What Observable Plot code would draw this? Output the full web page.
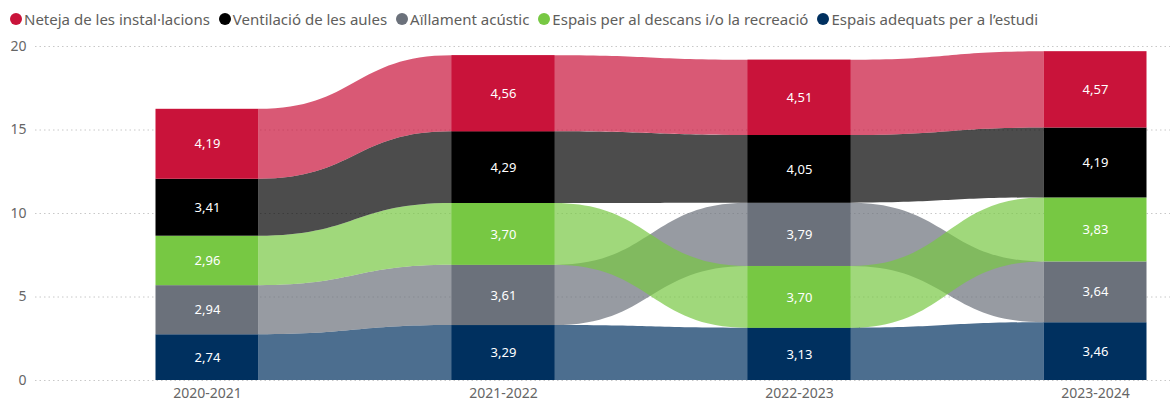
<!DOCTYPE html>
<html>
<head>
<meta charset="utf-8">
<script src="https://cdn.jsdelivr.net/npm/d3@7"></script>
<script src="https://cdn.jsdelivr.net/npm/@observablehq/plot@0.6"></script>
<style>
  html, body { margin: 0; padding: 0; background: #fff; }
  body { width: 1172px; height: 402px; overflow: hidden; font-family: "Noto Sans", "Open Sans", sans-serif; }
  #legend { height: 36px; display: flex; align-items: center; padding-left: 10px; padding-top: 2px; font-size: 15px; color: #605E5C; box-sizing: border-box; }
  .item { display: flex; align-items: center; margin-right: 9px; white-space: nowrap; }
  .dot { width: 12px; height: 12px; border-radius: 50%; margin-right: 2px; }
  #chart svg { display: block; }
</style>
</head>
<body>
<div id="legend"></div>
<div id="chart"></div>
<script>
const years = ["2020-2021", "2021-2022", "2022-2023", "2023-2024"];
const seriesNames = [
  "Neteja de les instal·lacions",
  "Ventilació de les aules",
  "Aïllament acústic",
  "Espais per al descans i/o la recreació",
  "Espais adequats per a l’estudi"
];
const seriesColors = ["#C9133A", "#000000", "#6B717B", "#77C843", "#00305F"];
const neteja = [4.19, 4.56, 4.51, 4.57];
const ventilacio = [3.41, 4.29, 4.05, 4.19];
const aillament = [2.94, 3.61, 3.79, 3.64];
const espaisDescans = [2.96, 3.70, 3.70, 3.83];
const espaisEstudi = [2.74, 3.29, 3.13, 3.46];
const yTicks = [0, 5, 10, 15, 20];

const seriesValues = [neteja, ventilacio, aillament, espaisDescans, espaisEstudi];

// legend
const legend = document.getElementById("legend");
seriesNames.forEach((name, s) => {
  const it = document.createElement("div");
  it.className = "item";
  const d = document.createElement("span");
  d.className = "dot";
  d.style.background = seriesColors[s];
  it.appendChild(d);
  it.appendChild(document.createTextNode(name));
  legend.appendChild(it);
});

// stack: per year, ascending values from bottom
const stacked = [];
years.forEach((yr, i) => {
  const order = seriesNames.map((_, s) => s).sort((a, b) => seriesValues[a][i] - seriesValues[b][i]);
  let base = 0;
  order.forEach(s => {
    const v = seriesValues[s][i];
    stacked.push({series: s, name: seriesNames[s], i, year: yr, value: v, y1: base, y2: base + v, color: seriesColors[s]});
    base += v;
  });
});

const hw = 0.174; // half bar width in band units
const ribbonData = [];
seriesNames.forEach((_, s) => {
  const rows = stacked.filter(d => d.series === s).sort((a, b) => a.i - b.i);
  rows.forEach((d, k) => {
    if (k > 0) ribbonData.push({series: s, x: d.i - hw, y1: d.y1, y2: d.y2});
    if (k < rows.length - 1) ribbonData.push({series: s, x: d.i + hw, y1: d.y1, y2: d.y2});
  });
});

const drawOrder = [4, 2, 3, 1, 0];
const W = 1172, H = 366, mL = 35, mR = 2;
const x0 = 207, step = 296;

const chart = Plot.plot({
  width: W,
  height: H,
  marginLeft: mL,
  marginRight: mR,
  marginTop: 10,
  marginBottom: 22,
  style: {fontFamily: "'Noto Sans', 'Open Sans', sans-serif", background: "#fff"},
  x: {domain: [(mL - x0) / step, (W - mR - x0) / step], axis: null},
  y: {domain: [0, 20], axis: null},
  color: {type: "identity"},
  marks: [
    Plot.ruleY(yTicks, {y: d => d, stroke: "#c8c8c8", strokeDasharray: "1.5,3"}),
    ...drawOrder.map(s => Plot.areaY(ribbonData.filter(d => d.series === s), {
      x: "x", y1: "y1", y2: "y2", curve: "bump-x", fill: seriesColors[s], fillOpacity: 0.7
    })),
    Plot.rect(stacked, {
      x1: d => d.i - hw, x2: d => d.i + hw, y1: "y1", y2: "y2",
      fill: "color"
    }),
    Plot.text(stacked, {
      x: "i", y: d => (d.y1 + d.y2) / 2,
      text: d => d.value.toFixed(2).replace(".", ","),
      fill: "white", fontSize: 13
    }),
    Plot.text(yTicks, {x: (mL - x0) / step, y: d => d, text: d => String(d), textAnchor: "end", dx: -9, fontSize: 14, fill: "#666"}),
    Plot.text([0, 1, 2, 3], {x: d => d, y: 0, text: d => years[d], dy: 13, fontSize: 14, fill: "#666"})
  ]
});
document.getElementById("chart").appendChild(chart);
</script>
</body>
</html>
